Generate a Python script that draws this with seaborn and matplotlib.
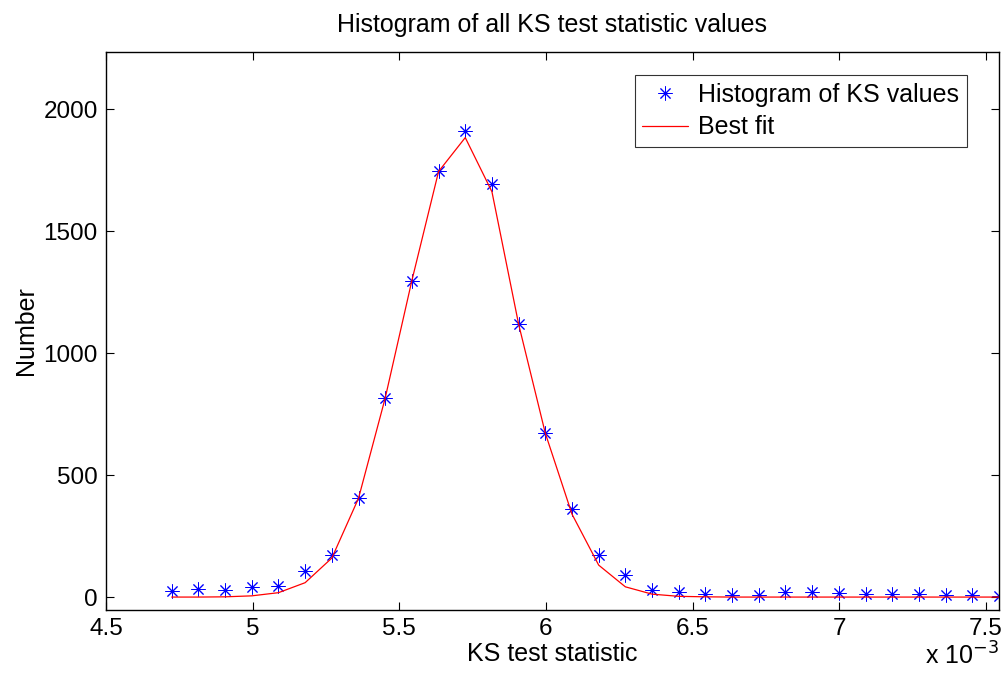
import matplotlib
matplotlib.use("Agg")
import matplotlib.pyplot as plt
from matplotlib.ticker import FuncFormatter, FixedLocator
import numpy as np
import pandas as pd
import seaborn as sns

# Histogram bin centres (KS statistic)
ks_centres = [4.724e-3, 4.815e-3, 4.906e-3, 4.997e-3, 5.088e-3, 5.179e-3, 5.270e-3, 5.361e-3,
              5.452e-3, 5.543e-3, 5.634e-3, 5.725e-3, 5.816e-3, 5.907e-3, 5.998e-3, 6.089e-3,
              6.180e-3, 6.271e-3, 6.362e-3, 6.453e-3, 6.544e-3, 6.635e-3, 6.726e-3, 6.817e-3,
              6.908e-3, 6.999e-3, 7.090e-3, 7.181e-3, 7.272e-3, 7.363e-3, 7.454e-3, 7.545e-3]
# Histogram counts
ks_counts = [25, 35, 31, 41, 46, 107, 171, 406, 816, 1298, 1745, 1910, 1693, 1119, 672, 360,
             172, 89, 31, 19, 12, 10, 10, 20, 19, 16, 11, 11, 14, 10, 7, 3]
# Gaussian best fit evaluated at the bin centres
fit_counts = [0, 0, 1, 5, 18, 59, 160, 405, 816, 1298, 1745, 1884, 1662, 1119, 672, 340,
              131, 42, 12, 3, 1, 0, 0, 0, 0, 0, 0, 0, 0, 0, 0, 0]

x_ticks = [4.5e-3, 5.0e-3, 5.5e-3, 6.0e-3, 6.5e-3, 7.0e-3, 7.5e-3]
y_ticks = [0, 500, 1000, 1500, 2000]

df = pd.DataFrame({"ks": ks_centres, "count": ks_counts, "fit": fit_counts})

sns.set_style("ticks")
plt.rcParams["font.family"] = ["Liberation Sans", "DejaVu Sans"]
plt.rcParams["text.color"] = "black"
plt.rcParams["axes.labelcolor"] = "black"
plt.rcParams["xtick.color"] = "black"
plt.rcParams["ytick.color"] = "black"
plt.rcParams["xtick.direction"] = "in"
plt.rcParams["ytick.direction"] = "in"

fs = 18
tfs = 17.5
fig = plt.figure(figsize=(10.06, 6.85), dpi=100)
ax = fig.add_axes([0.1054, 0.1095, 0.8876, 0.8153])

sns.lineplot(data=df, x="ks", y="count", ax=ax, marker=(8, 2, 0), linestyle="none",
             color="blue", markersize=10, markeredgewidth=0.7, markeredgecolor="blue",
             label="Histogram of KS values", sort=False)
sns.lineplot(data=df, x="ks", y="fit", ax=ax, color="red", linewidth=0.9,
             label="Best fit", sort=False)

ax.set_xlim(4.5e-3, ks_centres[-1])
ax.set_ylim(-53, 2237)
ax.xaxis.set_major_locator(FixedLocator(x_ticks))
ax.yaxis.set_major_locator(FixedLocator(y_ticks))
ax.xaxis.set_major_formatter(FuncFormatter(lambda v, p: f"{v * 1e3:g}"))
ax.tick_params(axis="both", which="both", direction="in", length=6, width=0.8,
               top=True, right=True, labelsize=tfs, pad=6, color="black",
               labelcolor="black")
for s in ax.spines.values():
    s.set_linewidth(1.0)
    s.set_color("black")

ax.set_xlabel("KS test statistic", fontsize=fs, labelpad=1)
ax.set_ylabel("Number", fontsize=fs, labelpad=4)
ax.set_title("Histogram of all KS test statistic values", fontsize=fs, pad=14)
fig.text(0.993, 0.022, r"x 10$^{-3}$", ha="right", va="bottom", fontsize=fs)

leg = ax.legend(loc="upper right", fontsize=fs, frameon=True, fancybox=False,
                numpoints=1, handlelength=1.85, borderpad=0.3, labelspacing=0.35,
                handletextpad=0.4, bbox_to_anchor=(0.978, 0.980))
leg.get_frame().set_edgecolor("black")
leg.get_frame().set_linewidth(0.8)
for t in leg.get_texts():
    t.set_color("black")

fig.savefig("out.png", dpi=100, facecolor="white")
